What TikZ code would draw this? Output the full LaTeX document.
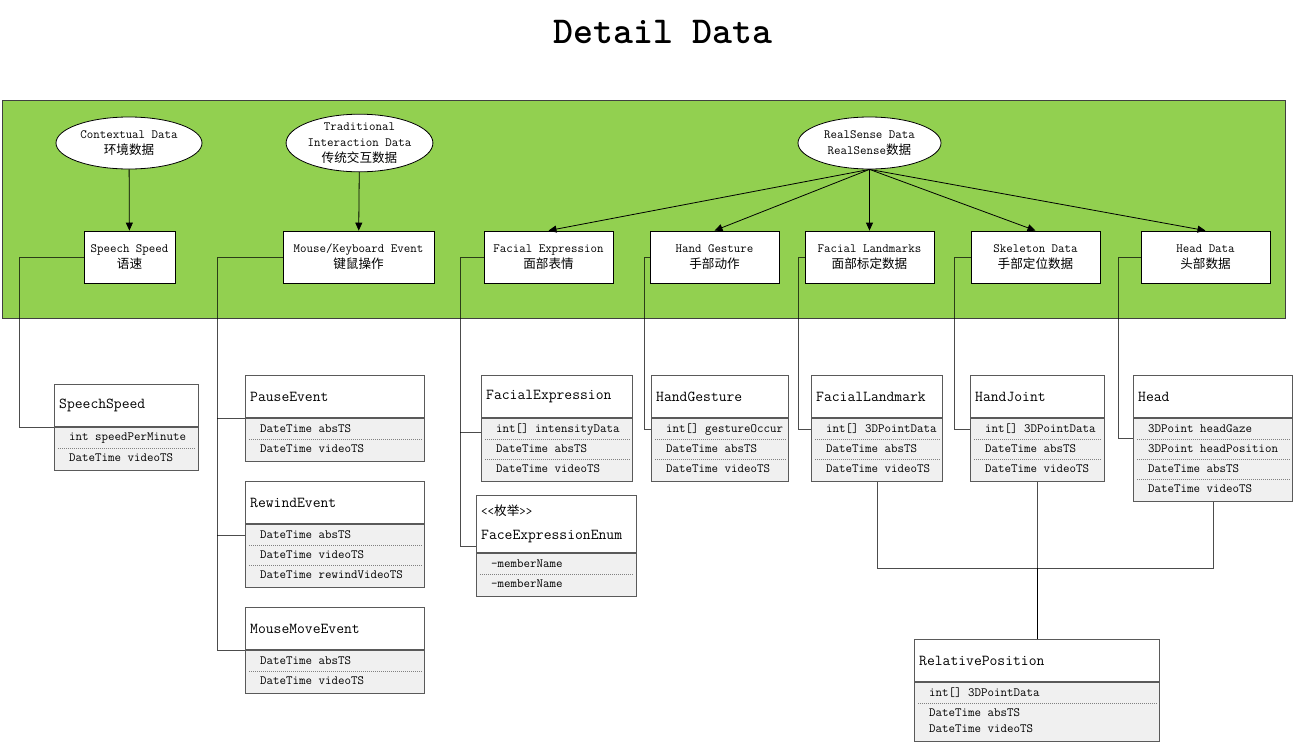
\documentclass[tikz,border=0pt]{standalone}
\usepackage{fontspec}
\newfontfamily\cjk{Noto Sans CJK SC}
\usetikzlibrary{shapes.geometric,arrows.meta,calc,positioning}

\definecolor{panelgreen}{HTML}{92D050}
\definecolor{rowgray}{HTML}{F0F0F0}
\definecolor{clsline}{HTML}{5A5A5A}

\newcommand{\zh}[1]{{\cjk #1}}

\tikzset{
  txt/.style={font=\fontsize{12.6}{16}\selectfont\ttfamily},
  source/.style={txt, ellipse, draw, fill=white, line width=0.8pt, inner sep=0pt,
    minimum height=52, align=center},
  databox/.style={txt, rectangle, draw, fill=white, line width=0.8pt, inner sep=0pt,
    minimum height=52, minimum width=129, align=center},
  feed/.style={-{Triangle[length=8pt,width=7pt]}, line width=0.8pt},
  link/.style={draw=black, draw opacity=0.7, line width=1pt},
  clshead/.style={draw=clsline, fill=white, line width=1.1pt, inner sep=0pt},
  clsbody/.style={draw=clsline, fill=rowgray, line width=1.1pt, inner sep=0pt},
  clstitle/.style={font=\fontsize{15.2}{24}\selectfont\ttfamily, anchor=west,
    inner sep=0pt, align=left},
  clsrow/.style={txt, anchor=west, inner sep=0pt},
  rowsep/.style={draw=gray, line width=0.8pt, dash pattern=on 1pt off 1pt}
}

% class box: [header height]{name}{left}{top}{width}{title}{rows}
\newcommand{\umlclass}[7][42]{%
  \node[clshead, minimum width=#5, minimum height=#1, anchor=north west] (#2) at (#3,#4) {};
  \node[clstitle] at ($(#2.west)+(5,0)$) {#6};
  \foreach \row [count=\k] in {#7} {\xdef\nrows{\k}}
  \node[clsbody, minimum width=#5, minimum height={20*\nrows+3}, anchor=north west]
    (#2-b) at (#2.south west) {};
  \foreach \row [count=\k] in {#7} {
    \node[clsrow] at ($(#2-b.north west)+(15,20*\k-9)$) {\row};
    \ifnum\k<\nrows
      \draw[rowsep] ($(#2-b.north west)+(4,20*\k+1)$) -- ($(#2-b.north east)+(-4,20*\k+1)$);
    \fi
  }
}

\begin{document}
\begin{tikzpicture}[x=1pt, y=-1pt]
	\useasboundingbox (0,0) rectangle (1294,742);
	\node[font=\fontsize{38}{40}\selectfont\ttfamily\bfseries] (title) at (663,32) {Detail Data};
	\draw[fill=panelgreen, draw=black!75, line width=0.8pt] (2,100) rectangle (1285,318);

	% sources
	\node[source, minimum width=146] (context) at (129,143) {Contextual Data\\\zh{环境数据}};
	\node[source, minimum width=145] (traditional) at (359.5,143) {Traditional\\Interaction Data\\\zh{传统交互数据}};
	\node[source, minimum width=143] (realsense) at (869.5,143) {RealSense Data\\RealSense\zh{数据}};

	% data kinds
	\node[databox, minimum width=91] (speed) at (129.5,257) {Speech Speed\\\zh{语速}};
	\node[databox, minimum width=151] (mouse) at (358.5,257) {Mouse/Keyboard Event\\\zh{键鼠操作}};
	\node[databox] (face) at (548.5,257) {Facial Expression\\\zh{面部表情}};
	\node[databox] (gesture) at (714.5,257) {Hand Gesture\\\zh{手部动作}};
	\node[databox] (landmark) at (869.5,257) {Facial Landmarks\\\zh{面部标定数据}};
	\node[databox] (skeleton) at (1035.5,257) {Skeleton Data\\\zh{手部定位数据}};
	\node[databox] (head) at (1205.5,257) {Head Data\\\zh{头部数据}};

	\draw[feed] (context) -- (speed);
	\draw[feed] (traditional) -- (mouse);
	\foreach \t in {face,gesture,landmark,skeleton,head}
		\draw[feed] (realsense.south) -- (\t.north);

	% classes
	\umlclass{speedCls}{54}{384}{144}{SpeechSpeed}{int speedPerMinute,DateTime videoTS}
	\umlclass{pauseCls}{245}{375}{179}{PauseEvent}{DateTime absTS,DateTime videoTS}
	\umlclass{rewindCls}{245}{481}{179}{RewindEvent}{DateTime absTS,DateTime videoTS,DateTime rewindVideoTS}
	\umlclass{moveCls}{245}{607}{179}{MouseMoveEvent}{DateTime absTS,DateTime videoTS}
	\umlclass{faceCls}{481}{375}{151}{FacialExpression}{int[] intensityData,DateTime absTS,DateTime videoTS}
	\umlclass[57]{enumCls}{476}{495}{160}{{\fontsize{12.6}{16}\selectfont<<\zh{枚举}>>}\\FaceExpressionEnum}{-memberName,-memberName}
	\umlclass{gestureCls}{651}{375}{137}{HandGesture}{int[] gestureOccur,DateTime absTS,DateTime videoTS}
	\umlclass{landmarkCls}{811}{375}{131}{FacialLandmark}{int[] 3DPointData,DateTime absTS,DateTime videoTS}
	\umlclass{jointCls}{970}{375}{134}{HandJoint}{int[] 3DPointData,DateTime absTS,DateTime videoTS}
	\umlclass{headCls}{1133}{375}{159}{Head}{3DPoint headGaze,3DPoint headPosition,DateTime absTS,DateTime videoTS}

	\node[clshead, minimum width=245, minimum height=42, anchor=north west] (relCls) at (914,639) {};
	\node[clstitle] at ($(relCls.west)+(5,0)$) {RelativePosition};
	\node[clsbody, minimum width=245, minimum height=59, anchor=north west] (relCls-b) at (relCls.south west) {};
	\node[clsrow] at ($(relCls-b.north west)+(15,11)$) {int[] 3DPointData};
	\draw[rowsep] ($(relCls-b.north west)+(4,21)$) -- ($(relCls-b.north east)+(-4,21)$);
	\node[clsrow] at ($(relCls-b.north west)+(15,31)$) {DateTime absTS};
	\node[clsrow] at ($(relCls-b.north west)+(15,47)$) {DateTime videoTS};

	% links
	\draw[link] (speed.west) -| ([xshift=-35pt]speedCls.south west) -- (speedCls.south west);
	\draw[link] (mouse.west) -| ([xshift=-28pt]moveCls.south west) -- (moveCls.south west);
	\draw[link] (pauseCls.south west) -- ++(-28,0);
	\draw[link] ([yshift=-11pt]rewindCls.south west) -- ++(-28,0);
	\draw[link] (face.west) -| ([xshift=-16pt,yshift=7pt]enumCls.south west) -- ([yshift=7pt]enumCls.south west);
	\draw[link] ([yshift=-14pt]faceCls.south west) -- ++(-21,0);
	\draw[link] (gesture.west) -| ([xshift=-7pt,yshift=-11pt]gestureCls.south west) -- ([yshift=-11pt]gestureCls.south west);
	\draw[link] (landmark.west) -| ([xshift=-13pt,yshift=-11pt]landmarkCls.south west) -- ([yshift=-11pt]landmarkCls.south west);
	\draw[link] (skeleton.west) -| ([xshift=-16pt,yshift=-11pt]jointCls.south west) -- ([yshift=-11pt]jointCls.south west);
	\draw[link] (head.west) -| ([xshift=-15pt,yshift=-20pt]headCls.south west) -- ([yshift=-20pt]headCls.south west);
	\draw[link] (landmarkCls-b.south) -- ++(0,86) coordinate (join) -| (headCls-b.south);
	\draw[link] (jointCls-b.south) -- (jointCls-b.south |- join);
	\draw[line width=1.4pt] (jointCls-b.south |- join) -- (jointCls-b.south |- relCls.north);
\end{tikzpicture}
\end{document}
